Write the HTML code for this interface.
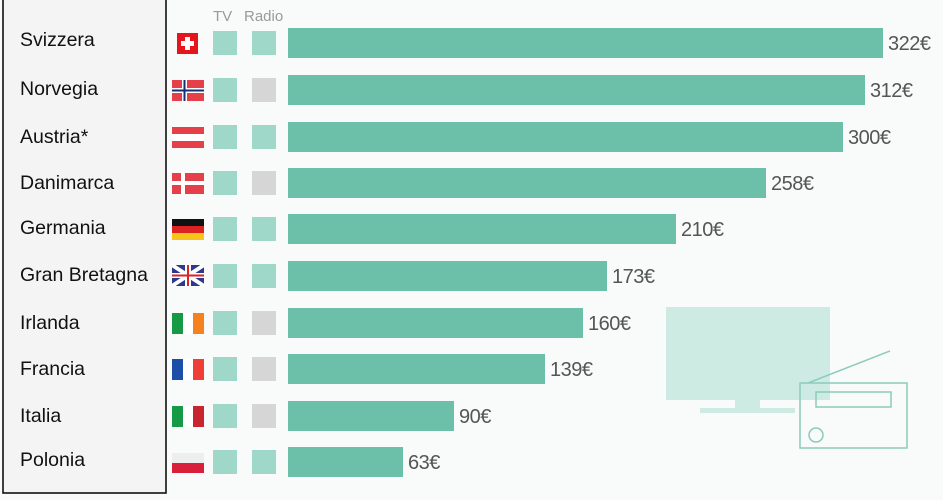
<!DOCTYPE html>
<html><head><style>
body{margin:0;width:943px;height:495px;background:#f9fafa;overflow:hidden;font-family:"Liberation Sans",sans-serif}
</style></head><body>
<svg width="943" height="495" xmlns="http://www.w3.org/2000/svg" font-family="Liberation Sans, sans-serif">
<rect x="0" y="0" width="943" height="495" fill="#f9fafa"/>
<rect x="3" y="-2" width="163" height="495" fill="#f4f4f4" stroke="#111" stroke-width="1.6"/>
<text x="213" y="21" font-size="15" fill="#999">TV</text>
<text x="244" y="21" font-size="15" fill="#999">Radio</text>
<rect x="666" y="307" width="164" height="93" fill="#cdeae3"/>
<rect x="735" y="398" width="25" height="12" fill="#cdeae3"/>
<rect x="700" y="408" width="95" height="5" fill="#cdeae3"/>
<g fill="none" stroke="#8ccbbb" stroke-width="1.5">
<rect x="800" y="383" width="107" height="65"/>
<rect x="816" y="392" width="75" height="15"/>
<circle cx="816" cy="435" r="7"/>
<line x1="808" y1="383" x2="890" y2="351"/>
</g>
<g font-size="19.5" fill="#111">
<text x="20" y="46">Svizzera</text>
<text x="20" y="95">Norvegia</text>
<text x="20" y="143">Austria*</text>
<text x="20" y="189">Danimarca</text>
<text x="20" y="234">Germania</text>
<text x="20" y="281">Gran Bretagna</text>
<text x="20" y="329">Irlanda</text>
<text x="20" y="375">Francia</text>
<text x="20" y="422">Italia</text>
<text x="20" y="466">Polonia</text>
</g>
<g fill="#6cc0aa">
<rect x="288" y="28" width="595" height="30"/>
<rect x="288" y="75" width="577" height="30"/>
<rect x="288" y="122" width="555" height="30"/>
<rect x="288" y="168" width="478" height="30"/>
<rect x="288" y="214" width="388" height="30"/>
<rect x="288" y="261" width="319" height="30"/>
<rect x="288" y="308" width="295" height="30"/>
<rect x="288" y="354" width="257" height="30"/>
<rect x="288" y="401" width="166" height="30"/>
<rect x="288" y="447" width="115" height="30"/>
</g>
<g font-size="20" fill="#555" letter-spacing="-0.5">
<text x="888" y="50">322€</text>
<text x="870" y="97">312€</text>
<text x="848" y="144">300€</text>
<text x="771" y="190">258€</text>
<text x="681" y="236">210€</text>
<text x="612" y="283">173€</text>
<text x="588" y="330">160€</text>
<text x="550" y="376">139€</text>
<text x="459" y="423">90€</text>
<text x="408" y="469">63€</text>
</g>
<g fill="#9fd8c9">
<rect x="213" y="31" width="24" height="24"/><rect x="213" y="78" width="24" height="24"/>
<rect x="213" y="125" width="24" height="24"/><rect x="213" y="171" width="24" height="24"/>
<rect x="213" y="217" width="24" height="24"/><rect x="213" y="264" width="24" height="24"/>
<rect x="213" y="311" width="24" height="24"/><rect x="213" y="357" width="24" height="24"/>
<rect x="213" y="404" width="24" height="24"/><rect x="213" y="450" width="24" height="24"/>
<rect x="252" y="31" width="24" height="24"/><rect x="252" y="125" width="24" height="24"/>
<rect x="252" y="217" width="24" height="24"/><rect x="252" y="264" width="24" height="24"/>
<rect x="252" y="450" width="24" height="24"/>
</g>
<g fill="#d6d6d6">
<rect x="252" y="78" width="24" height="24"/><rect x="252" y="171" width="24" height="24"/>
<rect x="252" y="311" width="24" height="24"/><rect x="252" y="357" width="24" height="24"/>
<rect x="252" y="404" width="24" height="24"/>
</g>
<rect x="177" y="33" width="21" height="21" fill="#e8141c"/>
<rect x="185" y="37" width="5" height="13" fill="#fff"/><rect x="181" y="41" width="13" height="5" fill="#fff"/>
<rect x="172" y="80" width="32" height="21" fill="#e5404a"/>
<rect x="172" y="88" width="32" height="5" fill="#fff"/><rect x="182" y="80" width="5" height="21" fill="#fff"/>
<rect x="172" y="89.5" width="32" height="2" fill="#1c2c70"/><rect x="183.5" y="80" width="2" height="21" fill="#1c2c70"/>
<rect x="172" y="127" width="32" height="21" fill="#e5404a"/><rect x="172" y="134" width="32" height="7" fill="#fff"/>
<rect x="172" y="173" width="32" height="21" fill="#e5404a"/><rect x="172" y="181" width="32" height="4" fill="#fff"/><rect x="181" y="173" width="4" height="21" fill="#fff"/>
<rect x="172" y="219" width="32" height="7" fill="#111"/><rect x="172" y="226" width="32" height="7" fill="#d22"/><rect x="172" y="233" width="32" height="7" fill="#f7c51a"/>
<rect x="172" y="265" width="32" height="21" fill="#2a3a8c"/>
<line x1="172" y1="265" x2="204" y2="286" stroke="#fff" stroke-width="4"/><line x1="204" y1="265" x2="172" y2="286" stroke="#fff" stroke-width="4"/>
<rect x="172" y="273" width="32" height="5" fill="#fff"/><rect x="185" y="265" width="6" height="21" fill="#fff"/>
<rect x="172" y="274.5" width="32" height="2" fill="#d22"/><rect x="187" y="265" width="2" height="21" fill="#d22"/>
<rect x="172" y="313" width="11" height="21" fill="#179a45"/><rect x="183" y="313" width="10" height="21" fill="#fff"/><rect x="193" y="313" width="11" height="21" fill="#f5821f"/>
<rect x="172" y="359" width="11" height="21" fill="#1d4fa8"/><rect x="183" y="359" width="10" height="21" fill="#fff"/><rect x="193" y="359" width="11" height="21" fill="#ee3e35"/>
<rect x="172" y="406" width="11" height="21" fill="#179a45"/><rect x="183" y="406" width="10" height="21" fill="#fff"/><rect x="193" y="406" width="11" height="21" fill="#c8252f"/>
<rect x="172" y="453" width="32" height="10" fill="#eee"/><rect x="172" y="463" width="32" height="10" fill="#d8203a"/>
</svg>
</body></html>
